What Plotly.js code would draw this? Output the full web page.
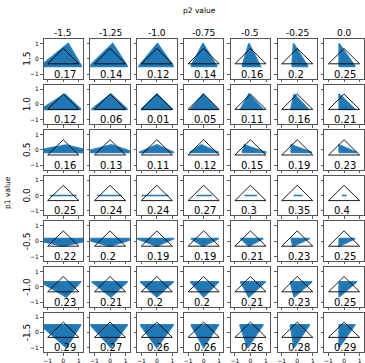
<!DOCTYPE html>
<html>
<head>
<meta charset="utf-8">
<script src="https://cdn.plot.ly/plotly-3.0.1.min.js"></script>
<style>
	html, body { margin: 0; padding: 0; background: #fff; }
	#chart { width: 365px; height: 363px; }
</style>
</head>
<body>
<div id="chart"></div>
<script>
// column / row headers
const p2Values = ['-1.5', '-1.25', '-1.0', '-0.75', '-0.5', '-0.25', '0.0'];
const p1Values = ['1.5', '1.0', '0.5', '0.0', '-0.5', '-1.0', '-1.5'];

// reference triangle (black outline)
const triangleX = [-1, 0, 1, -1];
const triangleY = [-0.33, 0.67, -0.33, -0.33];

// loss shown in each panel (rows = p1, cols = p2)
const losses = [
	[0.17, 0.14, 0.12, 0.14, 0.16, 0.2, 0.25],
	[0.12, 0.06, 0.01, 0.05, 0.11, 0.16, 0.21],
	[0.16, 0.13, 0.11, 0.12, 0.15, 0.19, 0.23],
	[0.25, 0.24, 0.24, 0.27, 0.3, 0.35, 0.4],
	[0.22, 0.2, 0.19, 0.19, 0.21, 0.23, 0.25],
	[0.23, 0.21, 0.2, 0.2, 0.21, 0.23, 0.25],
	[0.29, 0.27, 0.26, 0.26, 0.26, 0.28, 0.29]
];

// blue (transformed) triangle, y of base and apex per row
const blueBaseY = [-0.5, -0.33, -0.17, 0, 0.17, 0.33, 0.5];
const blueApexY = [1.0, 0.67, 0.33, 0, -0.33, -0.67, -1.0];

// blue triangle x of left base, apex, right base
const blueLeftX = [
	[-1.5, -1.35, -1.18, -0.82, -0.54, -0.34, -0.32],
	[-1.45, -1.2, -1.0, -0.86, -0.65, -0.42, -0.32],
	[-2.4, -1.9, -1.15, -0.9, -0.54, -0.4, -0.32],
	[-0.86, -0.82, -0.97, -0.47, -0.39, -0.24, -0.15],
	[-2.2, -1.8, -1.3, -0.82, -0.65, -0.4, -0.32],
	[-1.5, -1.18, -1.07, -0.86, -0.65, -0.45, -0.32],
	[-1.5, -1.29, -1.07, -0.82, -0.69, -0.45, -0.32]
];
const blueApexX = [
	[0.32, 0.17, 0.04, -0.04, -0.1, -0.24, -0.32],
	[0.1, 0.06, 0.0, -0.04, -0.1, -0.2, -0.32],
	[0.17, 0.1, 0.0, -0.15, -0.39, -0.39, -0.32],
	[0.0, -0.05, -0.1, 0.0, 0.0, 0.05, 0.0],
	[0.0, 0.0, 0.0, -0.04, -0.1, -0.28, -0.32],
	[0.2, 0.06, 0.0, 0.0, -0.1, -0.2, -0.32],
	[0.2, 0.06, 0.0, 0.0, -0.17, -0.2, -0.32]
];
const blueRightX = [
	[1.18, 1.12, 1.07, 0.86, 0.65, 0.68, 0.71],
	[1.14, 1.12, 1.0, 0.9, 0.82, 0.73, 0.71],
	[2.2, 1.6, 1.1, 0.97, 1.03, 0.95, 0.82],
	[0.86, 0.75, 0.75, 0.54, 0.43, 0.34, 0.17],
	[2.2, 1.6, 1.1, 0.97, 0.82, 0.8, 0.71],
	[1.14, 1.12, 1.07, 0.97, 0.97, 0.95, 0.82],
	[1.14, 1.12, 1.07, 0.97, 0.82, 0.8, 0.71]
];

(function () {

	'use strict';

	const W = 365, H = 363;
	const font = 'DejaVu Sans, sans-serif';

	// panel boxes in pixels
	const colLeft = ( c ) => 43.5 + 46.8 * c;
	const rowTop = ( r ) => 39 + 45.6 * r;
	const boxW = 39.5, boxH = 39.5;

	const data = [];
	const annotations = [];
	const layout = {
		width: W,
		height: H,
		margin: { l: 0, r: 0, t: 0, b: 0 },
		paper_bgcolor: '#fff',
		plot_bgcolor: '#fff',
		showlegend: false,
		font: { family: font, color: '#000' },
		annotations: annotations
	};

	p1Values.forEach(( p1, r ) => {
		p2Values.forEach(( p2, c ) => {
			const n = r * 7 + c + 1;
			const sfx = n === 1 ? '' : n;
			const flat = blueBaseY[r] === blueApexY[r];

			if( flat ){
				// p1 = 0 : triangle collapses to a flat segment (thin horizontal bar)
				data.push({
					type: 'bar',
					orientation: 'h',
					y: [ blueBaseY[r] ],
					x: [ blueRightX[r][c] - blueLeftX[r][c] ],
					base: [ blueLeftX[r][c] ],
					width: 0.1,
					xaxis: 'x' + sfx,
					yaxis: 'y' + sfx,
					marker: { color: '#1f77b4', line: { width: 0 } },
					hoverinfo: 'skip'
				});
			} else {
				// blue polygon
				data.push({
					x: [ blueLeftX[r][c], blueApexX[r][c], blueRightX[r][c], blueLeftX[r][c] ],
					y: [ blueBaseY[r], blueApexY[r], blueBaseY[r], blueBaseY[r] ],
					xaxis: 'x' + sfx,
					yaxis: 'y' + sfx,
					type: 'scatter',
					mode: 'lines',
					fill: 'toself',
					fillcolor: '#1f77b4',
					line: { color: '#2a80bc', width: 1.5 },
					hoverinfo: 'skip'
				});
			}

			// black reference triangle
			data.push({
				x: triangleX,
				y: triangleY,
				xaxis: 'x' + sfx,
				yaxis: 'y' + sfx,
				type: 'scatter',
				mode: 'lines',
				line: { color: '#000', width: 0.9 },
				hoverinfo: 'skip'
			});

			const x0 = colLeft( c ), y0 = rowTop( r );
			const common = {
				ticks: 'outside',
				ticklen: 2.5,
				tickwidth: 0.8,
				tickcolor: '#333',
				tickvals: [-1, 0, 1],
				ticktext: ['\u22121', '0', '1'],
				tickfont: { size: 6, family: font, color: '#000' },
				showline: true,
				mirror: true,
				linecolor: '#555',
				linewidth: 1,
				showgrid: false,
				zeroline: false,
				fixedrange: true
			};

			layout['xaxis' + sfx] = Object.assign({}, common, {
				domain: [ x0 / W, ( x0 + boxW ) / W ],
				range: [-1.27, 1.27],
				anchor: 'y' + sfx,
				showticklabels: r === 6
			});
			layout['yaxis' + sfx] = Object.assign({}, common, {
				domain: [ 1 - ( y0 + boxH ) / H, 1 - y0 / H ],
				range: [-1.29, 1.29],
				anchor: 'x' + sfx,
				showticklabels: c === 0
			});

			// loss value
			annotations.push({
				xref: 'x' + sfx, yref: 'y' + sfx,
				x: -0.75, y: -1.0,
				xanchor: 'left', yanchor: 'middle',
				text: String( losses[r][c] ),
				showarrow: false,
				font: { size: 10, family: font, color: '#000' }
			});

			// column header
			if( r === 0 ){
				annotations.push({
					xref: 'paper', yref: 'paper',
					x: ( x0 + boxW / 2 ) / W, y: 1 - 33 / H,
					xanchor: 'center', yanchor: 'middle',
					text: p2,
					showarrow: false,
					font: { size: 9, family: font, color: '#000' }
				});
			}

			// row header
			if( c === 0 ){
				annotations.push({
					xref: 'paper', yref: 'paper',
					x: 27 / W, y: 1 - ( y0 + boxH / 2 ) / H,
					xanchor: 'center', yanchor: 'middle',
					textangle: -90,
					text: p1,
					showarrow: false,
					font: { size: 9, family: font, color: '#000' }
				});
			}
		});
	});

	// figure labels
	annotations.push({
		xref: 'paper', yref: 'paper',
		x: 199 / W, y: 1 - 10 / H,
		xanchor: 'center', yanchor: 'middle',
		text: 'p2 value',
		showarrow: false,
		font: { size: 7.5, family: font, color: '#000' }
	});
	annotations.push({
		xref: 'paper', yref: 'paper',
		x: 7 / W, y: 1 - 193 / H,
		xanchor: 'center', yanchor: 'middle',
		textangle: -90,
		text: 'p1 value',
		showarrow: false,
		font: { size: 7.5, family: font, color: '#000' }
	});

	Plotly.newPlot( 'chart', data, layout, { displayModeBar: false, staticPlot: true } );

})();
</script>
</body>
</html>
